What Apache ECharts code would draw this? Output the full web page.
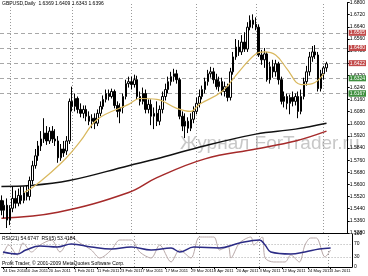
<!DOCTYPE html>
<html><head><meta charset="utf-8">
<script src="https://cdn.jsdelivr.net/npm/echarts@6/dist/echarts.min.js"></script>
<style>html,body{margin:0;padding:0;background:#fff}#c{width:368px;height:276px}</style>
</head><body><div id="c"></div>
<script>
const symbolTitle = 'GBPUSD,Daily  1.6369 1.6409 1.6343 1.6396';
const subTitle = 'RSI(21) 54.6747  RSI(5) 53.4184';
const copyright = 'Profit Trader, \u00a9 2001-2009 MetaQuotes Software Corp.';
const watermark = 'Журнал ForTrader.ru';
const dateTicks = ['24 Dec 2010','10 Jan 2011','20 Jan 2011','1 Feb 2011','11 Feb 2011','23 Feb 2011','7 Mar 2011','17 Mar 2011','29 Mar 2011','8 Apr 2011','20 Apr 2011','3 May 2011','12 May 2011','24 May 2011','3 Jun 2011'];
const dateBars = [0, 8, 16, 25, 33, 41, 49, 57, 66, 74, 82, 90, 98, 107, 115];
// [open, close, low, high]
const candles = [
[1.5495,1.5430,1.5397,1.5528],[1.5430,1.5463,1.5378,1.5495],[1.5463,1.5365,1.5313,1.5508],[1.5365,1.5443,1.5332,1.5463],
[1.5443,1.5508,1.5417,1.5587],[1.5508,1.5476,1.5443,1.5560],[1.5476,1.5528,1.5456,1.5573],[1.5528,1.5495,1.5469,1.5587],
[1.5495,1.5547,1.5476,1.5587],[1.5547,1.5521,1.5495,1.5593],[1.5521,1.5626,1.5495,1.5652],[1.5626,1.5724,1.5600,1.5756],
[1.5724,1.5789,1.5704,1.5834],[1.5789,1.5854,1.5756,1.5887],[1.5854,1.5900,1.5821,1.5952],[1.5900,1.5939,1.5874,1.6037],
[1.5939,1.5887,1.5861,1.5985],[1.5887,1.5952,1.5867,1.5978],[1.5952,1.5900,1.5874,1.5985],[1.5900,1.5887,1.5854,1.5965],
[1.5887,1.5776,1.5743,1.5919],[1.5776,1.5834,1.5756,1.5867],[1.5834,1.5808,1.5782,1.5887],[1.5821,1.5887,1.5795,1.5919],
[1.5887,1.6148,1.5867,1.6167],[1.6148,1.6115,1.6082,1.6245],[1.6115,1.6167,1.6082,1.6200],[1.6167,1.6095,1.6069,1.6180],
[1.6095,1.6069,1.6043,1.6135],[1.6069,1.6095,1.6037,1.6121],[1.6095,1.6050,1.6017,1.6121],[1.6050,1.6017,1.5991,1.6082],
[1.6017,1.6037,1.5971,1.6063],[1.6037,1.6004,1.5965,1.6069],[1.6004,1.6069,1.5985,1.6095],[1.6069,1.6115,1.6050,1.6148],
[1.6115,1.6161,1.6095,1.6187],[1.6161,1.6200,1.6141,1.6226],[1.6200,1.6180,1.6154,1.6226],[1.6180,1.6213,1.6167,1.6232],
[1.6213,1.6121,1.6102,1.6226],[1.6121,1.6082,1.6043,1.6148],[1.6082,1.6108,1.6004,1.6135],[1.6108,1.6180,1.6069,1.6200],
[1.6180,1.6265,1.6161,1.6291],[1.6265,1.6278,1.6239,1.6311],[1.6278,1.6259,1.6226,1.6311],[1.6259,1.6291,1.6239,1.6324],
[1.6291,1.6180,1.6161,1.6317],[1.6180,1.6148,1.6121,1.6213],[1.6148,1.6200,1.6128,1.6239],[1.6200,1.6095,1.6069,1.6226],
[1.6095,1.6128,1.6069,1.6161],[1.6128,1.6050,1.5991,1.6161],[1.6050,1.6069,1.5965,1.6108],[1.6069,1.6017,1.5985,1.6148],
[1.6017,1.6095,1.5991,1.6121],[1.6095,1.6180,1.6069,1.6213],[1.6180,1.6226,1.6154,1.6265],[1.6226,1.6278,1.6200,1.6311],
[1.6278,1.6311,1.6252,1.6343],[1.6311,1.6330,1.6278,1.6363],[1.6330,1.6291,1.6265,1.6356],[1.6291,1.6050,1.6030,1.6304],
[1.6050,1.5985,1.5952,1.6082],[1.5985,1.6017,1.5906,1.6069],[1.6017,1.5971,1.5939,1.6043],[1.5971,1.6030,1.5952,1.6069],
[1.6030,1.6082,1.6004,1.6115],[1.6082,1.6135,1.6063,1.6174],[1.6135,1.6180,1.6108,1.6226],[1.6180,1.6226,1.6161,1.6252],
[1.6226,1.6278,1.6200,1.6304],[1.6278,1.6330,1.6252,1.6356],[1.6330,1.6343,1.6304,1.6376],[1.6343,1.6291,1.6265,1.6369],
[1.6291,1.6245,1.6226,1.6330],[1.6245,1.6278,1.6213,1.6311],[1.6278,1.6213,1.6187,1.6304],[1.6213,1.6245,1.6180,1.6278],
[1.6245,1.6174,1.6148,1.6265],[1.6174,1.6343,1.6154,1.6369],[1.6343,1.6441,1.6324,1.6474],[1.6441,1.6506,1.6422,1.6559],
[1.6506,1.6474,1.6448,1.6552],[1.6474,1.6539,1.6454,1.6585],[1.6539,1.6493,1.6474,1.6604],[1.6493,1.6637,1.6474,1.6670],
[1.6637,1.6683,1.6617,1.6715],[1.6683,1.6656,1.6630,1.6722],[1.6656,1.6637,1.6617,1.6702],[1.6637,1.6454,1.6441,1.6656],
[1.6454,1.6422,1.6389,1.6487],[1.6422,1.6461,1.6369,1.6500],[1.6461,1.6291,1.6278,1.6474],[1.6291,1.6376,1.6265,1.6409],
[1.6376,1.6343,1.6304,1.6422],[1.6343,1.6396,1.6311,1.6422],[1.6396,1.6291,1.6259,1.6409],[1.6291,1.6148,1.6128,1.6311],
[1.6148,1.6180,1.6108,1.6213],[1.6180,1.6135,1.6095,1.6200],[1.6135,1.6174,1.6063,1.6193],[1.6174,1.6148,1.6115,1.6213],
[1.6148,1.6180,1.6121,1.6200],[1.6180,1.6082,1.6037,1.6213],[1.6082,1.6180,1.6063,1.6226],[1.6180,1.6278,1.6161,1.6304],
[1.6278,1.6343,1.6252,1.6382],[1.6343,1.6441,1.6317,1.6474],[1.6441,1.6474,1.6409,1.6513],[1.6474,1.6454,1.6428,1.6519],
[1.6454,1.6232,1.6213,1.6474],[1.6232,1.6330,1.6213,1.6356],[1.6330,1.6369,1.6291,1.6382],[1.6369,1.6396,1.6343,1.6409]
];
// moving averages: [bar index, value]
const maFast = [[8,1.5547],[11,1.5580],[17,1.5671],[23,1.5776],[28,1.5887],[34,1.6030],[45,1.6128],[49,1.6167],[55,1.6161],[62,1.6102],[67,1.6082],[70,1.6128],[78,1.6213],[84,1.6343],[90,1.6461],[93,1.6474],[97,1.6454],[101,1.6363],[106,1.6259],[110,1.6265],[114,1.6330]];
const maMid = [[0,1.5587],[10,1.5593],[24,1.5626],[45,1.5724],[55,1.5769],[69,1.5841],[90,1.5932],[104,1.5965],[115,1.6004]];
const maLong = [[0,1.5378],[20,1.5417],[45,1.5547],[55,1.5645],[72,1.5769],[90,1.5834],[104,1.5887],[115,1.5952]];
const rsiSlow = [[0,45.5],[5,39.4],[8,51.5],[13,63.6],[19,60.6],[24,69.7],[31,60.6],[38,54.5],[45,60.6],[52,51.5],[59,57.6],[62,45.5],[67,60.6],[76,57.6],[83,72.7],[90,81.8],[92,66.7],[94,45.5],[101,39.4],[106,45.5],[111,54.5],[115,57.6]];
const rsiFast = [[0,36.4],[2,66.7],[5,36.4],[7,72.7],[10,45.5],[13,66.7],[17,81.8],[20,45.5],[24,90.9],[27,72.7],[31,51.5],[34,27.3],[38,51.5],[41,81.8],[45,81.8],[48,45.5],[52,27.3],[55,66.7],[59,15.2],[62,51.5],[66,27.3],[69,90.9],[74,90.9],[76,51.5],[79,63.6],[80,27.3],[83,72.7],[87,90.9],[88,66.7],[91,90.9],[92,27.3],[95,15.2],[99,15.2],[101,36.4],[104,15.2],[106,66.7],[108,87.9],[110,87.9],[113,30.3],[115,51.5]];
const resistance = [1.6565, 1.6480, 1.6422];
const support = [1.6324, 1.6245, 1.6167];
const lastPrice = 1.6396;
const gridBars = [3, 25, 46, 69, 90, 114];
const rsiLevels = [70, 30];
const rsiTicks = [0, 30, 70, 100];
const priceMin = 1.528, priceMax = 1.680, priceStep = 0.008;
const nSlots = 123;

const cats = Array.from({length: nSlots}, (_, i) => String(i));
const FONT = 'Liberation Sans';
const chart = echarts.init(document.getElementById('c'), null, {renderer: 'canvas'});

function lvl(v, bg) {
  return {yAxis: v, lineStyle: {color: '#a8a8a8', type: [4, 3], width: 1},
    label: {show: true, position: 'end', distance: 1, formatter: v.toFixed(4), color: '#fff',
      backgroundColor: bg, padding: [1, 1, 0, 1], fontSize: 5, fontFamily: FONT}};
}
const levelLines = [].concat(
  resistance.map(v => lvl(v, '#c24a4a')),
  support.map(v => lvl(v, '#3f8f3f')),
  [Object.assign(lvl(lastPrice, '#000'), {lineStyle: {opacity: 0}})]
);
const vLines = gridBars.map(b => ({xAxis: b, lineStyle: {color: '#9a9a9a', type: [1, 2], width: 1}, label: {show: false}}));

chart.setOption({
  animation: false,
  backgroundColor: '#fff',
  textStyle: {fontFamily: FONT},
  grid: [
    {left: 0, right: 16, top: 0, height: 233},
    {left: 0, right: 16, top: 234, height: 33}
  ],
  xAxis: [
    {type: 'category', gridIndex: 0, data: cats, boundaryGap: true,
      axisLine: {show: true, lineStyle: {color: '#000', width: 1}}, axisTick: {show: false}, axisLabel: {show: false}, splitLine: {show: false}},
    {type: 'category', gridIndex: 1, data: cats, boundaryGap: true,
      axisLine: {show: true, lineStyle: {color: '#000', width: 1}},
      axisTick: {show: true, length: 2, alignWithLabel: true, interval: i => dateBars.includes(i), lineStyle: {color: '#000'}},
      axisLabel: {show: true, fontSize: 4.1, color: '#000', margin: 1.5, align: 'left', fontFamily: FONT,
        interval: 0, hideOverlap: false,
        formatter: (v) => { const k = dateBars.indexOf(Number(v)); return k >= 0 ? dateTicks[k] : ''; }},
      splitLine: {show: false}}
  ],
  yAxis: [
    {type: 'value', gridIndex: 0, position: 'right', min: priceMin, max: priceMax, interval: priceStep,
      axisLine: {show: true, lineStyle: {color: '#000'}}, axisTick: {show: true, length: 2, lineStyle: {color: '#000'}},
      axisLabel: {fontSize: 5, color: '#000', margin: 2, fontFamily: FONT, formatter: v => v.toFixed(4), showMaxLabel: true, showMinLabel: true},
      splitLine: {show: false}},
    {type: 'value', gridIndex: 1, position: 'right', min: 0, max: 100, interval: 10,
      axisLine: {show: true, lineStyle: {color: '#000'}}, axisTick: {show: false},
      axisLabel: {fontSize: 5, color: '#000', margin: 2, fontFamily: FONT, showMaxLabel: true, formatter: v => rsiTicks.includes(v) ? String(v) : ''},
      splitLine: {show: false}}
  ],
  graphic: [
    {type: 'text', left: 180, top: 134, z: 0, style: {text: watermark, fontSize: 19, fill: '#c8c8c8', fontFamily: FONT}},
    {type: 'text', left: 2, top: 1, z: 10, style: {text: symbolTitle, fontSize: 5, fill: '#000', fontFamily: FONT}},
    {type: 'text', left: 2, top: 236, z: 10, style: {text: subTitle, fontSize: 5, fill: '#000', fontFamily: FONT}},
    {type: 'text', left: 2, top: 261, z: 10, style: {text: copyright, fontSize: 5, fill: '#000', fontFamily: FONT}}
  ],
  series: [
    {type: 'candlestick', xAxisIndex: 0, yAxisIndex: 0, data: candles, barWidth: 2, z: 3,
      itemStyle: {color: '#fff', color0: '#000', borderColor: '#000', borderColor0: '#000', borderWidth: 1},
      markLine: {silent: true, symbol: 'none', z: 1, animation: false, data: levelLines.concat(vLines)}},
    {type: 'line', xAxisIndex: 0, yAxisIndex: 0, data: maLong, smooth: 0.4, showSymbol: false, z: 2,
      lineStyle: {color: '#a52a2a', width: 1.5}},
    {type: 'line', xAxisIndex: 0, yAxisIndex: 0, data: maMid, smooth: 0.4, showSymbol: false, z: 2,
      lineStyle: {color: '#111', width: 1.5}},
    {type: 'line', xAxisIndex: 0, yAxisIndex: 0, data: maFast, smooth: 0.4, showSymbol: false, z: 4,
      lineStyle: {color: '#d9b85e', width: 1.2}},
    {type: 'line', xAxisIndex: 1, yAxisIndex: 1, data: rsiFast, smooth: 0.3, showSymbol: false, z: 2,
      lineStyle: {color: '#b9a9a9', width: 1},
      markLine: {silent: true, symbol: 'none', z: 1, label: {show: false},
        data: rsiLevels.map(v => ({yAxis: v, lineStyle: {color: '#aaa', type: [1, 2], width: 1}}))
          .concat(gridBars.map(b => ({xAxis: b, lineStyle: {color: '#9a9a9a', type: [1, 2], width: 1}})))}},
    {type: 'line', xAxisIndex: 1, yAxisIndex: 1, data: rsiSlow, smooth: 0.4, showSymbol: false, z: 3,
      lineStyle: {color: '#2b2b85', width: 1.5}}
  ]
});
</script>
</body></html>
